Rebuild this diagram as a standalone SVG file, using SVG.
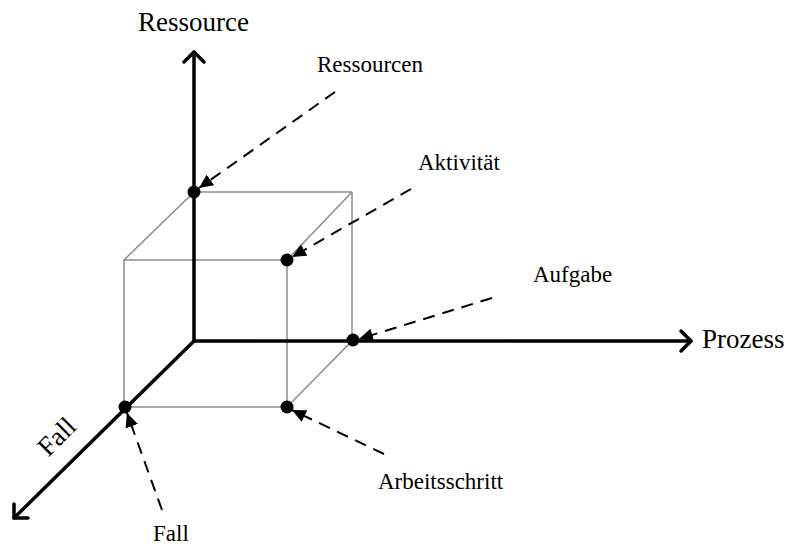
<svg xmlns="http://www.w3.org/2000/svg" width="792" height="547" viewBox="0 0 792 547">
<style>
.lbl{font-family:"Liberation Serif","Times New Roman",serif;font-size:23px;fill:#000}
.ax{font-family:"Liberation Serif","Times New Roman",serif;font-size:27px;fill:#000}
.axis{stroke:#000;stroke-width:3.5;fill:none;stroke-linecap:round;stroke-linejoin:round}
.cube{stroke:#8c8c8c;stroke-width:1.5;fill:none}
.dash{stroke:#000;stroke-width:2;stroke-dasharray:12,8;fill:none;marker-end:url(#ah)}
.dot{fill:#000}
</style>
<defs>
<marker id="ah" markerUnits="userSpaceOnUse" markerWidth="15" markerHeight="13" refX="14" refY="6.5" orient="auto">
<path d="M0,0 L14,6.5 L0,13 z" fill="#000"/>
</marker>
</defs>
<rect width="792" height="547" fill="#fff"/>
<g id="cube">
<rect class="cube" x="124" y="260" width="163" height="147"/>
<line class="cube" x1="194" y1="192" x2="352" y2="192"/>
<line class="cube" x1="352" y1="192" x2="352" y2="341"/>
<line class="cube" x1="194" y1="192" x2="124" y2="260"/>
<line class="cube" x1="352" y1="192" x2="287" y2="260"/>
<line class="cube" x1="352" y1="341" x2="287" y2="407"/>
</g>
<g id="axes">
<g id="axis-ressource">
<line class="axis" x1="194" y1="341" x2="194" y2="52"/>
<polyline class="axis" points="184,62 194,52 204,62"/>
<text class="ax" x="138" y="31">Ressource</text>
</g>
<g id="axis-prozess">
<line class="axis" x1="194" y1="341" x2="691" y2="341"/>
<polyline class="axis" points="681,331 691,341 681,351"/>
<text class="ax" x="702" y="348">Prozess</text>
</g>
<g id="axis-fall">
<line class="axis" x1="194" y1="341" x2="14" y2="518"/>
<polyline class="axis" points="14,504 14,518 28,518"/>
<text class="ax" transform="translate(63,443) rotate(-45)" text-anchor="middle">Fall</text>
</g>
</g>
<g id="dots">
<circle class="dot" cx="194" cy="192" r="6.5"/>
<circle class="dot" cx="287" cy="260" r="6.5"/>
<circle class="dot" cx="353" cy="340" r="6.5"/>
<circle class="dot" cx="287" cy="407" r="6.5"/>
<circle class="dot" cx="125" cy="407" r="6.5"/>
</g>
<g id="connectors">
<line class="dash" x1="335" y1="92" x2="199" y2="188"/>
<line class="dash" x1="411" y1="189" x2="292" y2="257"/>
<line class="dash" x1="492" y1="298" x2="359" y2="339"/>
<line class="dash" x1="384" y1="454" x2="292" y2="410"/>
<line class="dash" x1="162" y1="510" x2="127" y2="413"/>
</g>
<g id="labels">
<text class="lbl" x="317" y="72">Ressourcen</text>
<text class="lbl" x="418" y="170">Aktivität</text>
<text class="lbl" x="533" y="282">Aufgabe</text>
<text class="lbl" x="378" y="489">Arbeitsschritt</text>
<text class="lbl" x="153" y="541">Fall</text>
</g>
</svg>
